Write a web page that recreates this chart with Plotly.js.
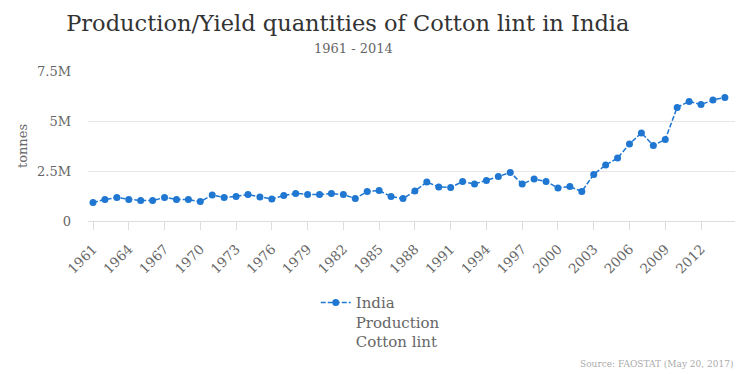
<!DOCTYPE html>
<html><head><meta charset="utf-8">
<script src="https://cdn.plot.ly/plotly-3.0.1.min.js"></script>
<style>html,body{margin:0;padding:0;background:#fff}#chart{width:748px;height:374px}</style>
</head><body><div id="chart"></div>
<script>
const years = [];
for (let y = 1961; y <= 2014; y++) years.push(y);
const production = [
  0.92, 1.08, 1.17, 1.08, 1.02, 1.02, 1.18, 1.08, 1.07, 0.97,
  1.30, 1.18, 1.23, 1.32, 1.20, 1.10, 1.27, 1.38, 1.33, 1.32,
  1.37, 1.32, 1.12, 1.48, 1.52, 1.22, 1.12, 1.50, 1.95, 1.70,
  1.68, 1.97, 1.85, 2.03, 2.22, 2.43, 1.85, 2.10, 1.98, 1.65,
  1.72, 1.48, 2.33, 2.80, 3.15, 3.85, 4.40, 3.78, 4.08, 5.68,
  5.98, 5.82, 6.05, 6.18
].map(v => v * 1e6);
const yTickVals = [0, 2.5e6, 5e6, 7.5e6];
const yTickText = ["0", "2.5M", "5M", "7.5M"];
const seriesName = "India<br>Production<br>Cotton lint";

const font = "DejaVu Serif, serif";
const trace = {
  x: years, y: production, type: "scatter", mode: "lines+markers",
  name: seriesName,
  line: {color: "#1f77d2", width: 1.5, dash: "5px,2px"},
  marker: {color: "#1f77d2", size: 7}
};
const layout = {
  width: 748, height: 374,
  margin: {l: 88, r: 13, t: 71, b: 153},
  paper_bgcolor: "#fff", plot_bgcolor: "#fff",
  font: {family: font, color: "#666", size: 13},
  title: {text: "Production/Yield quantities of Cotton lint in India", x: 0.465, xanchor: "center", y: 0.937, yanchor: "middle",
          font: {family: font, size: 22.5, color: "#333"}},
  showlegend: true,
  legend: {orientation: "v", x: 0.352, xanchor: "left", y: -0.435, yanchor: "top", valign: "top",
           font: {family: font, size: 15, color: "#666"}},
  xaxis: {range: [1960.58, 2014.85], tickmode: "linear", tick0: 1961, dtick: 3,
          tickangle: -45, ticks: "outside", ticklen: 8, tickcolor: "#ddd", ticklabelstandoff: 6,
          showline: true, linecolor: "#ddd", showgrid: false, zeroline: false,
          tickfont: {family: font, size: 13.5, color: "#666"}},
  yaxis: {range: [0, 7.5e6], tickvals: yTickVals, ticktext: yTickText, ticklabelstandoff: 16,
          showgrid: true, gridcolor: "#e6e6e6", zeroline: false, showline: false,
          tickfont: {family: font, size: 13, color: "#666"},
          title: {text: "tonnes", font: {family: font, size: 13, color: "#666"}, standoff: 6}},
  annotations: [
    {text: "1961 - 2014", xref: "paper", yref: "paper", x: 0.41, y: 1.147, xanchor: "center", yanchor: "middle",
     showarrow: false, font: {family: font, size: 13, color: "#666"}},
    {text: "Source: FAOSTAT (May 20, 2017)", xref: "paper", yref: "paper", x: 1.0, y: -0.955, xanchor: "right", yanchor: "middle",
     showarrow: false, font: {family: font, size: 9, color: "#aaa"}}
  ]
};
Plotly.newPlot("chart", [trace], layout, {displayModeBar: false});
</script></body></html>
